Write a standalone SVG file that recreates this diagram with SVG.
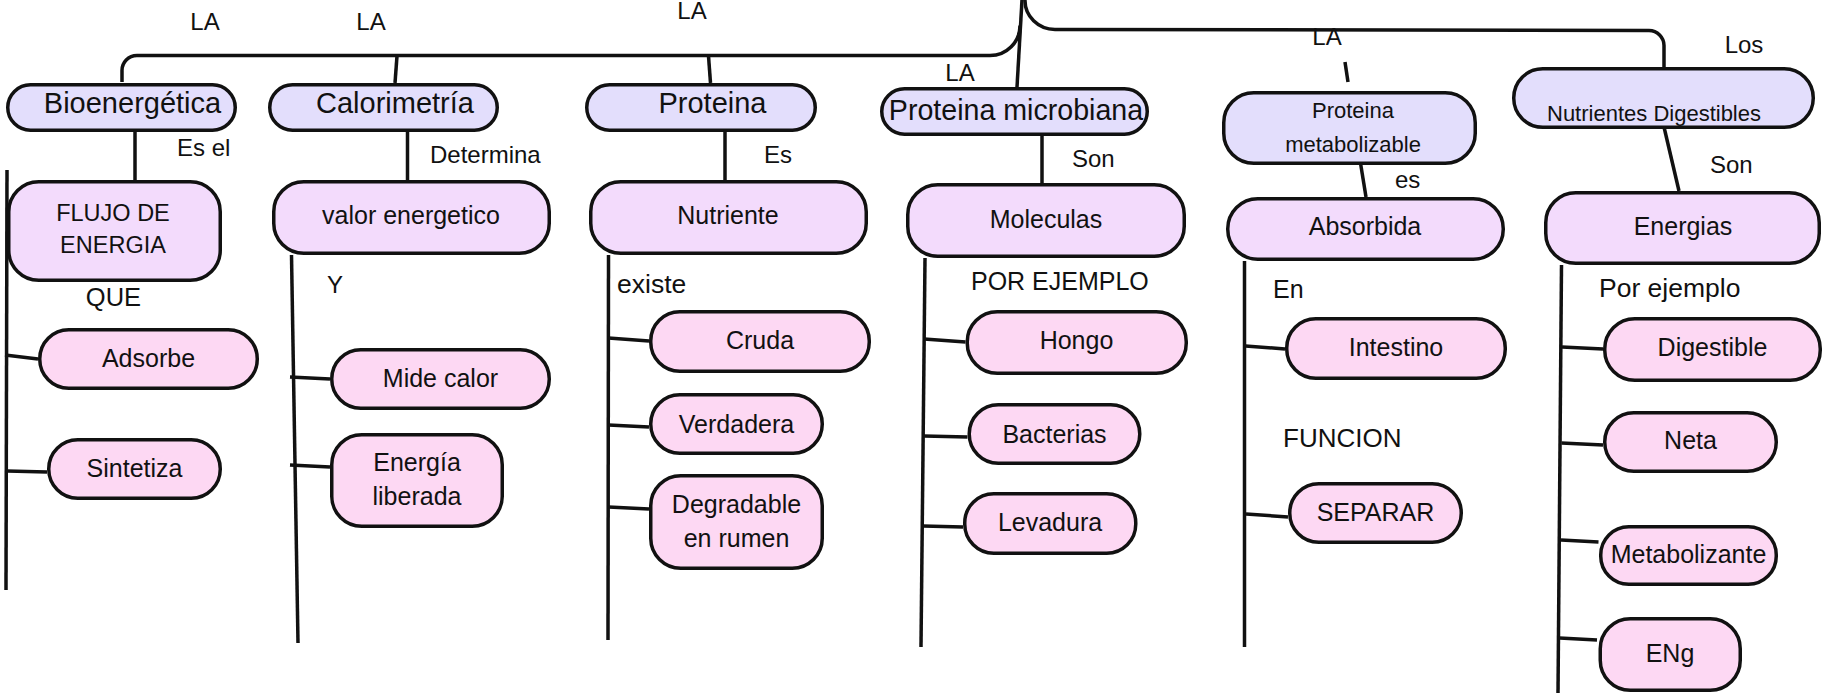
<svg xmlns="http://www.w3.org/2000/svg" width="1823" height="693" viewBox="0 0 1823 693">
<style>
  text { font-family: "Liberation Sans", Arial, sans-serif; fill: #111; }
  .t1 rect { fill: #e3defc; stroke: #111; stroke-width: 3.5; }
  .t2 rect { fill: #f3dbfc; stroke: #111; stroke-width: 3.5; }
  .t3 rect { fill: #fdd8f3; stroke: #111; stroke-width: 3.5; }
  .big { font-size: 29px; text-anchor: middle; }
  .mid { font-size: 25px; text-anchor: middle; }
  .lbl { font-size: 24px; }
  .lblc { font-size: 24px; text-anchor: middle; }
  #connectors path { fill: none; stroke: #111; stroke-width: 3.5; stroke-linecap: butt; }
</style>
<rect width="1823" height="693" fill="#ffffff"/>

<g id="connectors">
  <path d="M122 82 L122 71 A15 15 0 0 1 137 55.5 L990 55.5 A30 30 0 0 0 1020 25.5"/>
  <path d="M1022 0 L1017 87"/>
  <path d="M1025 0 A30 29 0 0 0 1055 29.5 L1649 30.5 A15 15 0 0 1 1664 45.5 L1664 68"/>
  <path d="M397 56 L395 83"/>
  <path d="M708.5 56 L710.5 83"/>
  <path d="M1345 62 L1348 82"/>
  <path d="M135 131 L135 181"/>
  <path d="M407.5 129 L407.5 180"/>
  <path d="M725 129 L725 180"/>
  <path d="M1042 133 L1042 183"/>
  <path d="M1360 160 L1366 197"/>
  <path d="M1664 127 L1679 191"/>
  <path d="M7 170 L6 590"/>
  <path d="M291.5 255 L298 643"/>
  <path d="M608.5 255 L608 640"/>
  <path d="M925 258 L921 647"/>
  <path d="M1244.5 261 L1244.5 647"/>
  <path d="M1561.5 265 L1558 693"/>
  <path d="M5 355 L38 359"/>
  <path d="M7 471 L47 472"/>
  <path d="M290 377 L330 379"/>
  <path d="M290 465 L330 467"/>
  <path d="M608.5 338 L649 341"/>
  <path d="M608.5 425 L649 427"/>
  <path d="M608.5 507 L649 509"/>
  <path d="M924 339 L965.5 342"/>
  <path d="M924 436 L967.5 437"/>
  <path d="M923 526 L963 527"/>
  <path d="M1245.5 346 L1285 349"/>
  <path d="M1246 514 L1288 517"/>
  <path d="M1562 347 L1603 349"/>
  <path d="M1561.5 443 L1603 445"/>
  <path d="M1561 540 L1598.5 542"/>
  <path d="M1559.5 638 L1597 640"/>
</g>

<g id="labels">
  <text class="lblc" x="205" y="30">LA</text>
  <text class="lblc" x="371" y="30">LA</text>
  <text class="lblc" x="692" y="19">LA</text>
  <text class="lblc" x="960" y="81">LA</text>
  <text class="lblc" x="1327" y="45">LA</text>
  <text class="lblc" x="1744" y="53">Los</text>
  <text class="lbl" x="177" y="156">Es el</text>
  <text class="lbl" x="430" y="163">Determina</text>
  <text class="lbl" x="764" y="163">Es</text>
  <text class="lbl" x="1072" y="167">Son</text>
  <text class="lbl" x="1395" y="188">es</text>
  <text class="lbl" x="1710" y="173">Son</text>
  <text class="lblc" style="font-size:25.5px" x="113.5" y="306">QUE</text>
  <text class="lbl" x="327" y="293">Y</text>
  <text class="lbl" style="font-size:26.5px" x="617" y="293">existe</text>
  <text class="lbl" style="font-size:25px" x="971" y="290">POR EJEMPLO</text>
  <text class="lbl" style="font-size:25px" x="1273" y="298">En</text>
  <text class="lbl" style="font-size:26.5px" x="1599" y="297">Por ejemplo</text>
  <text class="lbl" style="font-size:26px" x="1283" y="447">FUNCION</text>
</g>

<g id="n-bioenergetica" class="t1"><rect x="7.75" y="84.75" width="227.5" height="45.5" rx="22.75"/><text class="big" x="132.5" y="113">Bioenergética</text></g>
<g id="n-calorimetria" class="t1"><rect x="269.75" y="84.75" width="227.5" height="45.5" rx="22.75"/><text class="big" x="395" y="113">Calorimetría</text></g>
<g id="n-proteina" class="t1"><rect x="586.75" y="84.75" width="228.5" height="45.5" rx="22.75"/><text class="big" x="712.5" y="113">Proteina</text></g>
<g id="n-microbiana" class="t1"><rect x="881.75" y="88.75" width="265.5" height="45.5" rx="22.75"/><text class="big" style="font-size:28.6px" x="1016" y="120">Proteina microbiana</text></g>
<g id="n-metabolizable" class="t1"><rect x="1223.75" y="92.75" width="251.5" height="70.5" rx="30"/><text style="font-size:22px;text-anchor:middle" x="1353" y="118">Proteina</text><text style="font-size:22px;text-anchor:middle" x="1353" y="152">metabolizable</text></g>
<g id="n-nutrientes" class="t1"><rect x="1513.75" y="68.75" width="299.5" height="58.5" rx="29"/><text style="font-size:22px;text-anchor:middle" x="1654" y="121">Nutrientes Digestibles</text></g>

<g id="n-flujo" class="t2"><rect x="8.75" y="181.75" width="211.5" height="98.5" rx="30"/><text class="mid" style="font-size:23.5px" x="113" y="221">FLUJO DE</text><text class="mid" style="font-size:23.5px" x="113" y="253">ENERGIA</text></g>
<g id="n-valor" class="t2"><rect x="273.75" y="181.75" width="275.5" height="71.5" rx="30"/><text class="mid" x="411" y="224">valor energetico</text></g>
<g id="n-nutriente" class="t2"><rect x="590.75" y="181.75" width="275.5" height="71.5" rx="30"/><text class="mid" x="728" y="224">Nutriente</text></g>
<g id="n-moleculas" class="t2"><rect x="907.75" y="184.75" width="276.5" height="71.5" rx="30"/><text class="mid" x="1046" y="228">Moleculas</text></g>
<g id="n-absorbida" class="t2"><rect x="1227.75" y="198.75" width="275.5" height="60.5" rx="30"/><text class="mid" x="1365" y="235">Absorbida</text></g>
<g id="n-energias" class="t2"><rect x="1545.75" y="192.75" width="273.5" height="70.5" rx="30"/><text class="mid" x="1683" y="235">Energias</text></g>

<g id="n-adsorbe" class="t3"><rect x="39.75" y="329.75" width="217.5" height="58.5" rx="29"/><text class="mid" x="148.5" y="367">Adsorbe</text></g>
<g id="n-sintetiza" class="t3"><rect x="48.75" y="439.75" width="171.5" height="58.5" rx="29"/><text class="mid" x="134.5" y="477">Sintetiza</text></g>
<g id="n-midecalor" class="t3"><rect x="331.75" y="349.75" width="217.5" height="58.5" rx="29"/><text class="mid" x="440.5" y="387">Mide calor</text></g>
<g id="n-energialib" class="t3"><rect x="331.75" y="434.75" width="170.5" height="91.5" rx="30"/><text class="mid" x="417" y="471">Energía</text><text class="mid" x="417" y="505">liberada</text></g>
<g id="n-cruda" class="t3"><rect x="650.75" y="311.75" width="218.5" height="59.5" rx="29"/><text class="mid" x="760" y="349">Cruda</text></g>
<g id="n-verdadera" class="t3"><rect x="650.75" y="394.75" width="171.5" height="58.5" rx="29"/><text class="mid" x="736.5" y="433">Verdadera</text></g>
<g id="n-degradable" class="t3"><rect x="650.75" y="475.75" width="171.5" height="92.5" rx="30"/><text class="mid" x="736.5" y="513">Degradable</text><text class="mid" x="736.5" y="547">en rumen</text></g>
<g id="n-hongo" class="t3"><rect x="967.25" y="311.75" width="219" height="61.5" rx="30"/><text class="mid" x="1076.5" y="349">Hongo</text></g>
<g id="n-bacterias" class="t3"><rect x="969.25" y="404.75" width="170.5" height="58.5" rx="29"/><text class="mid" x="1054.5" y="443">Bacterias</text></g>
<g id="n-levadura" class="t3"><rect x="964.75" y="493.75" width="171" height="59.5" rx="29"/><text class="mid" x="1050" y="531">Levadura</text></g>
<g id="n-intestino" class="t3"><rect x="1286.75" y="318.75" width="218.5" height="59.5" rx="29"/><text class="mid" x="1396" y="356">Intestino</text></g>
<g id="n-separar" class="t3"><rect x="1289.75" y="483.75" width="171.5" height="58.5" rx="29"/><text class="mid" x="1375.5" y="521">SEPARAR</text></g>
<g id="n-digestible" class="t3"><rect x="1604.75" y="318.75" width="215.5" height="61.5" rx="30"/><text class="mid" x="1712.5" y="356">Digestible</text></g>
<g id="n-neta" class="t3"><rect x="1604.75" y="412.75" width="171.5" height="58.5" rx="29"/><text class="mid" x="1690.5" y="449">Neta</text></g>
<g id="n-metabolizante" class="t3"><rect x="1600.75" y="526.75" width="175.5" height="57.5" rx="28"/><text class="mid" x="1688.5" y="563">Metabolizante</text></g>
<g id="n-eng" class="t3"><rect x="1600.25" y="618.75" width="140" height="71.5" rx="30"/><text class="mid" x="1670" y="662">ENg</text></g>
</svg>
